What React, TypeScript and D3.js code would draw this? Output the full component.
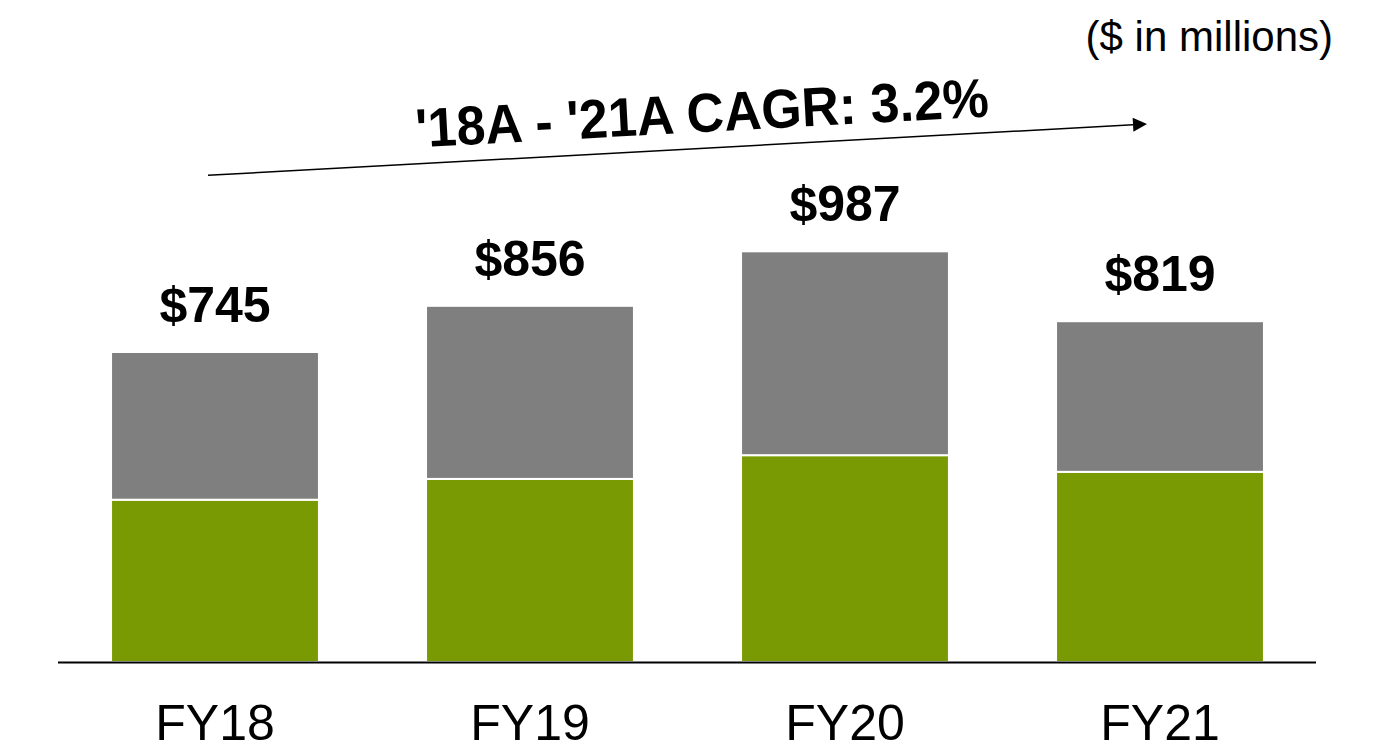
import React from "react";
import * as d3 from "d3";

const categories = ["FY18", "FY19", "FY20", "FY21"];
const totals = [745, 856, 987, 819];
const greenValues = [390, 440, 497, 457];
const grayValues = totals.map((t, i) => t - greenValues[i]);
const totalLabels = ["$745", "$856", "$987", "$819"];
const cagrText = "'18A - '21A CAGR: 3.2%";
const unitText = "($ in millions)";

const W = 1393;
const H = 750;
const FONT = "'Liberation Sans', Arial, Helvetica, sans-serif";
const GREEN = "#7a9a03";
const GRAY = "#7f7f7f";

export default function App() {
  const x = d3
    .scaleBand<string>()
    .domain(categories)
    .range([57.5, 1317.5])
    .paddingInner(0.34)
    .paddingOuter(0.17);
  const y = d3.scaleLinear().domain([0, 1000]).range([662, 245.9]);

  const stack = d3
    .stack<any>()
    .keys(["green", "gray"])(
    categories.map((c, i) => ({ cat: c, green: greenValues[i], gray: grayValues[i] }))
  );
  const colors: Record<string, string> = { green: GREEN, gray: GRAY };

  const arrowStart: [number, number] = [208, 175.3];
  const arrowTip: [number, number] = [1147, 124];
  const ang = Math.atan2(arrowTip[1] - arrowStart[1], arrowTip[0] - arrowStart[0]);
  const headLen = 14;
  const headHalf = 7;
  const baseX = arrowTip[0] - headLen * Math.cos(ang);
  const baseY = arrowTip[1] - headLen * Math.sin(ang);
  const px = -Math.sin(ang);
  const py = Math.cos(ang);

  return (
    <svg
      width={W}
      height={H}
      style={{ position: "absolute", left: 0, top: 0, background: "#fff" }}
      fontFamily={FONT}
    >
      {stack.map((layer) => (
        <g key={layer.key}>
          {layer.map((d, i) => (
            <rect
              key={i}
              x={x(categories[i])}
              width={x.bandwidth()}
              y={y(d[1])}
              height={y(d[0]) - y(d[1])}
              fill={colors[layer.key]}
              stroke="#ffffff"
              strokeWidth={2}
            />
          ))}
        </g>
      ))}
      <line x1={58} x2={1316} y1={662.5} y2={662.5} stroke="#000" strokeWidth={2} />
      {categories.map((c, i) => (
        <text
          key={"tot" + c}
          x={(x(c) as number) + x.bandwidth() / 2}
          y={y(totals[i]) - 30}
          textAnchor="middle"
          fontSize={50}
          fontWeight="bold"
          fill="#000"
        >
          {totalLabels[i]}
        </text>
      ))}
      {categories.map((c) => (
        <text
          key={"cat" + c}
          x={(x(c) as number) + x.bandwidth() / 2}
          y={740}
          textAnchor="middle"
          fontSize={50}
          fill="#000"
        >
          {c}
        </text>
      ))}
      <text x={1333} y={51} textAnchor="end" fontSize={42} fill="#000">
        {unitText}
      </text>
      <line
        x1={arrowStart[0]}
        y1={arrowStart[1]}
        x2={baseX}
        y2={baseY}
        stroke="#000"
        strokeWidth={1.5}
      />
      <polygon
        points={`${arrowTip[0]},${arrowTip[1]} ${baseX + px * headHalf},${baseY + py * headHalf} ${baseX - px * headHalf},${baseY - py * headHalf}`}
        fill="#000"
      />
      <text
        x={703}
        y={132}
        textAnchor="middle"
        fontSize={55}
        fontWeight="bold"
        textLength={574}
        lengthAdjust="spacingAndGlyphs"
        fill="#000"
        transform="rotate(-3.1 703 132)"
      >
        {cagrText}
      </text>
    </svg>
  );
}
